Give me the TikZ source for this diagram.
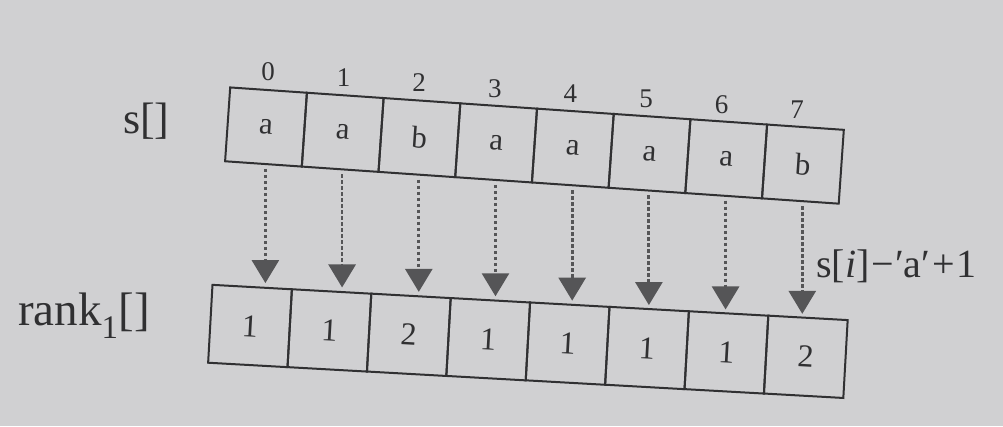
\documentclass[tikz,border=0pt]{standalone}
\usepackage{fontspec}
\setmainfont{Liberation Serif}
\usetikzlibrary{arrows.meta}
\definecolor{bg}{RGB}{208,208,210}
\definecolor{ink}{RGB}{48,48,50}
\definecolor{arr}{RGB}{85,85,87}
\tikzset{
  topcell/.style={draw=ink, line width=2pt, inner sep=0pt, minimum width=76.9pt, minimum height=74pt, rotate=-3.95, text=ink, font=\fontsize{31}{31}\selectfont},
  botcell/.style={draw=ink, line width=2pt, inner sep=0pt, minimum width=79.5pt, minimum height=78pt, rotate=-3.2, text=ink, font=\fontsize{32}{32}\selectfont},
  idx/.style={text=ink, inner sep=0pt, font=\fontsize{27}{27}\selectfont},
  lbl/.style={text=ink, inner sep=0pt, anchor=base west},
  maparrow/.style={draw=arr, line width=2.8pt, dash pattern=on 3.5pt off 2.5pt,
    -{Triangle[width=27pt,length=23pt]}, shorten <=4pt, shorten >=3pt}
}
\begin{document}
\begin{tikzpicture}[x=1pt,y=-1pt]
\fill[bg] (0,0) rectangle (1003,426);
\useasboundingbox (0,0) rectangle (1003,426);
\foreach \c [count=\i from 0] in {a,a,b,a,a,a,a,b}{
  \node[topcell] (t\i) at ({266+76.7*\i},{127+5.3*\i}) {\c};
  \node[idx] (i\i) at ({268+75.6*\i},{72+5.4*\i}) {\i};
}
\foreach \r [count=\i from 0] in {1,1,2,1,1,1,1,2}{
  \node[botcell] (b\i) at ({250+79.4*\i},{326+4.4*\i}) {\r};
}
\foreach \i in {0,...,7}{
  \draw[maparrow] ([xshift=2pt]t\i.south) -- ([xshift=2pt]b\i.north -| t\i.south);
}
\node[lbl, font=\fontsize{44}{44}\selectfont] (sl) at (123,133) {s[]};
\node[lbl, font=\fontsize{47}{47}\selectfont] (rl) at (18,325) {rank\textsubscript{1}[]};
\node[lbl, font=\fontsize{40}{40}\selectfont] (fm) at (816,277) {s[\textit{i}]\hspace{2pt}−\hspace{1pt}′a′\hspace{2pt}+\hspace{2pt}1};
\end{tikzpicture}
\end{document}
